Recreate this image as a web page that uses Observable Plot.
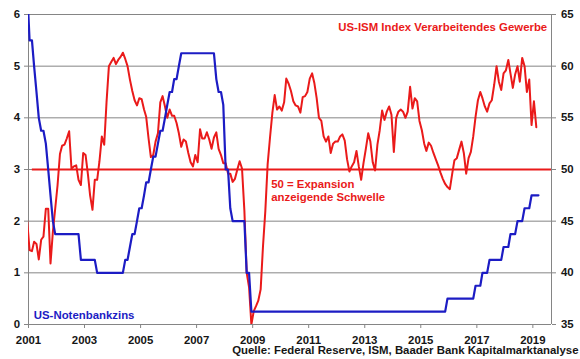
<!DOCTYPE html>
<html><head><meta charset="utf-8">
<script src="https://cdn.jsdelivr.net/npm/d3@7"></script>
<script src="https://cdn.jsdelivr.net/npm/@observablehq/plot@0.6"></script>
<style>
html,body{margin:0;padding:0;background:#fff;}
#chart{width:580px;height:359px;overflow:hidden;}
</style></head><body><div id="chart"></div>
<script>
// Monthly observations, first one = December 2000 (plotted mid-month)
const firstMonth = [2000, 11, 15];

// US-ISM Index Verarbeitendes Gewerbe (right axis)
const ismValues = [
  45.0,
  42.2, 42.1, 43.0, 42.8, 41.3, 43.2, 43.5, 46.2, 46.2, 40.9, 44.0, 46.2,
  48.5, 51.5, 52.3, 52.4, 53.0, 53.7, 50.1, 50.3, 50.4, 49.0, 48.5, 51.6,
  51.4, 49.5, 47.5, 46.1, 49.0, 49.0, 50.8, 53.2, 52.4, 56.5, 60.0, 60.4,
  60.8, 60.2, 60.6, 60.9, 61.3, 60.7, 60.0, 58.7, 57.6, 56.7, 56.2, 56.9,
  56.8, 55.8, 55.1, 53.0, 51.2, 51.4, 52.7, 53.5, 56.5, 57.1, 56.1, 55.0,
  55.8, 55.2, 55.2, 54.5, 53.5, 52.2, 52.9, 52.7, 51.6, 50.7, 50.3, 51.4,
  50.7, 53.9, 53.0, 53.0, 53.6, 52.9, 52.0, 53.1, 53.6, 52.0, 51.4, 50.6,
  50.6, 49.6, 49.6, 48.8, 49.1, 50.0, 50.8, 50.1, 46.0, 40.0, 38.6, 35.0,
  36.3, 36.8, 37.3, 38.4, 42.5, 46.0, 50.5, 53.1, 55.5, 57.2, 55.8, 56.1,
  55.7, 56.5, 58.8, 58.3, 57.6, 56.6, 56.2, 56.1, 55.5, 57.0, 57.1, 57.5,
  58.8, 59.3, 58.4, 56.9, 55.0, 54.7, 53.2, 52.7, 53.2, 51.6, 52.5, 52.7,
  52.7, 53.2, 53.4, 52.8, 51.0, 49.8, 50.3, 50.7, 51.8, 50.3, 49.0, 50.6,
  52.0, 53.5, 52.7, 50.7, 49.9, 52.4, 53.8, 55.7, 54.8, 55.6, 56.1, 55.3,
  51.7, 55.0, 55.6, 55.8, 55.6, 55.0, 55.6, 58.0, 55.9, 56.9, 56.6, 54.7,
  53.8, 52.5, 51.8, 52.6, 52.3, 51.6, 51.0, 50.4, 49.7, 49.1, 48.6, 48.3,
  48.1, 49.6, 50.9, 51.1, 51.9, 52.7, 51.6, 49.6, 51.1, 51.7, 53.2, 55.1,
  56.7, 57.5, 56.9, 56.1, 55.6, 56.4, 56.7, 58.2, 60.0, 58.5, 57.7, 59.3,
  59.6, 60.6, 59.3, 57.9, 59.2, 60.0, 58.5, 60.8, 60.0, 57.5, 58.7, 54.3,
  56.6, 54.1
];

// US-Notenbankzins (left axis), month-end target rate
const fedRate = [
  6.5,
  5.5, 5.5, 5.0, 4.5, 4.0, 3.75, 3.75, 3.5, 3.0, 2.5, 2.0, 1.75,
  1.75, 1.75, 1.75, 1.75, 1.75, 1.75, 1.75, 1.75, 1.75, 1.75, 1.25, 1.25,
  1.25, 1.25, 1.25, 1.25, 1.25, 1.0, 1.0, 1.0, 1.0, 1.0, 1.0, 1.0,
  1.0, 1.0, 1.0, 1.0, 1.0, 1.25, 1.25, 1.5, 1.75, 1.75, 2.0, 2.25,
  2.25, 2.5, 2.75, 2.75, 3.0, 3.25, 3.25, 3.5, 3.75, 3.75, 4.0, 4.25,
  4.5, 4.5, 4.75, 4.75, 5.0, 5.25, 5.25, 5.25, 5.25, 5.25, 5.25, 5.25,
  5.25, 5.25, 5.25, 5.25, 5.25, 5.25, 5.25, 5.25, 4.75, 4.5, 4.5, 4.25,
  3.0, 3.0, 2.25, 2.0, 2.0, 2.0, 2.0, 2.0, 2.0, 1.0, 1.0, 0.25,
  0.25, 0.25, 0.25, 0.25, 0.25, 0.25, 0.25, 0.25, 0.25, 0.25, 0.25, 0.25,
  0.25, 0.25, 0.25, 0.25, 0.25, 0.25, 0.25, 0.25, 0.25, 0.25, 0.25, 0.25,
  0.25, 0.25, 0.25, 0.25, 0.25, 0.25, 0.25, 0.25, 0.25, 0.25, 0.25, 0.25,
  0.25, 0.25, 0.25, 0.25, 0.25, 0.25, 0.25, 0.25, 0.25, 0.25, 0.25, 0.25,
  0.25, 0.25, 0.25, 0.25, 0.25, 0.25, 0.25, 0.25, 0.25, 0.25, 0.25, 0.25,
  0.25, 0.25, 0.25, 0.25, 0.25, 0.25, 0.25, 0.25, 0.25, 0.25, 0.25, 0.25,
  0.25, 0.25, 0.25, 0.25, 0.25, 0.25, 0.25, 0.25, 0.25, 0.25, 0.25, 0.5,
  0.5, 0.5, 0.5, 0.5, 0.5, 0.5, 0.5, 0.5, 0.5, 0.5, 0.5, 0.75,
  0.75, 0.75, 1.0, 1.0, 1.0, 1.25, 1.25, 1.25, 1.25, 1.25, 1.25, 1.5,
  1.5, 1.5, 1.75, 1.75, 1.75, 2.0, 2.0, 2.0, 2.25, 2.25, 2.25, 2.5,
  2.5, 2.5, 2.5
];

const leftTicks = [0, 1, 2, 3, 4, 5, 6];
const rightTickLabels = [35, 40, 45, 50, 55, 60, 65];
const yearTicks = [2001, 2003, 2005, 2007, 2009, 2011, 2013, 2015, 2017, 2019];
const xStart = [2001, 0, 1];
const xEnd = [2019, 8, 1];
const thresholdValue = 50;
const thresholdStart = [2001, 1, 20];

const titleText = "US-ISM Index Verarbeitendes Gewerbe";
const fedText = "US-Notenbankzins";
const thresholdText = "50 = Expansion\nanzeigende Schwelle";
const sourceText = "Quelle: Federal Reserve, ISM, Baader Bank Kapitalmarktanalyse";

const RED = "#ea1a1a";
const BLUE = "#1c1cc4";
const GRID = "#858585";
const INK = "#161616";

// right axis (35..65) onto left axis (0..6)
const toLeft = v => (v - rightTickLabels[0]) / 5;
const fromLeft = d => rightTickLabels[0] + 5 * d;

const utc = a => new Date(Date.UTC(a[0], a[1], a[2]));
const monthDate = i => d3.utcMonth.offset(utc(firstMonth), i);

const ism = ismValues.map((v, i) => ({date: monthDate(i), y: toLeft(v)}));
const fed = fedRate.map((v, i) => ({date: monthDate(i), y: v}));
const x0 = utc(xStart), x1 = utc(xEnd);

const chart = Plot.plot({
  width: 580,
  height: 359,
  marginLeft: 28,
  marginRight: 29,
  marginTop: 14,
  marginBottom: 35,
  style: {fontFamily: "'Liberation Sans', Arial, sans-serif", fontSize: "11.4px", fontWeight: "bold", background: "#fff", color: INK},
  x: {type: "utc", domain: [x0, x1]},
  y: {domain: [0, 6]},
  marks: [
    Plot.gridY(leftTicks.slice(1), {stroke: GRID, strokeOpacity: 1, strokeWidth: 1}),
    Plot.ruleX([x0, x1], {stroke: GRID, strokeWidth: 1}),
    Plot.ruleY([0], {stroke: GRID, strokeWidth: 1}),
    Plot.axisY(leftTicks, {anchor: "left", tickSize: 4, tickPadding: 4.5, stroke: GRID, fill: INK, label: null, fontWeight: "bold", tickFormat: d => String(d)}),
    Plot.axisY(rightTickLabels.map(toLeft), {anchor: "right", tickSize: 4, tickPadding: 5.5, stroke: GRID, fill: INK, label: null, fontWeight: "bold", tickFormat: d => String(Math.round(fromLeft(d)))}),
    Plot.axisX(yearTicks.map(y => utc([y, 0, 1])), {anchor: "bottom", tickSize: 4, tickPadding: 7, stroke: GRID, fill: INK, label: null, fontWeight: "bold", tickFormat: d3.utcFormat("%Y")}),
    Plot.ruleY([toLeft(thresholdValue)], {x1: utc(thresholdStart), x2: x1, stroke: RED, strokeWidth: 2}),
    Plot.line(ism, {x: "date", y: "y", stroke: RED, strokeWidth: 2, clip: true}),
    Plot.line(fed, {x: "date", y: "y", stroke: BLUE, strokeWidth: 2.2, clip: true}),
    Plot.text([titleText], {frameAnchor: "top-right", textAnchor: "end", lineAnchor: "middle", dx: -4.3, dy: 13.1, fill: RED, fontWeight: "bold", fontSize: 11.4}),
    Plot.text([fedText], {frameAnchor: "bottom-left", textAnchor: "start", lineAnchor: "middle", dx: 5.3, dy: -9.4, fill: BLUE, fontWeight: "bold", fontSize: 11.4}),
    Plot.text([thresholdText], {frameAnchor: "left", textAnchor: "start", lineAnchor: "middle", dx: 242.7, dy: 20.4, lineHeight: 1.14, fill: RED, fontWeight: "bold", fontSize: 11.4}),
    Plot.text([sourceText], {frameAnchor: "bottom-right", textAnchor: "end", lineAnchor: "middle", dx: 27, dy: 26.2, fill: INK, fontWeight: "bold", fontSize: 11.4})
  ]
});
document.getElementById("chart").appendChild(chart);
</script>
</body></html>
